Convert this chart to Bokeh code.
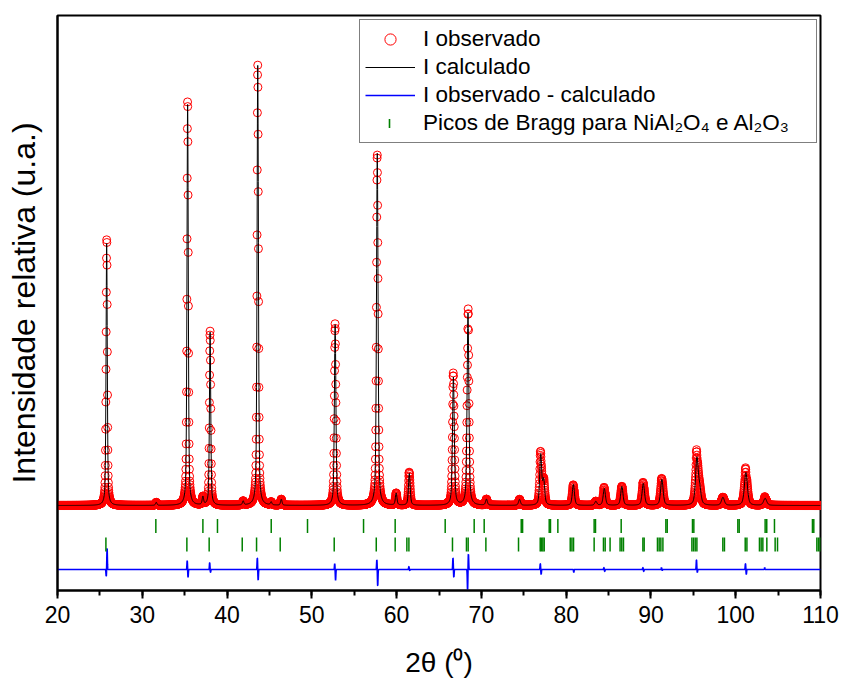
import numpy as np
from bokeh.plotting import figure
from bokeh.models import (Range1d, SingleIntervalTicker, FixedTicker, Legend,
                          LegendItem)
from bokeh.embed import file_html
from bokeh.resources import INLINE

# ---------------- data ----------------
# calculated profile: peak positions (2theta, deg), heights (rel. units above background), FWHM (deg)
peak_pos = [25.80, 31.65, 35.35, 37.15, 38.00, 41.90, 43.62, 45.20, 46.40,
            52.75, 57.72, 59.95, 61.50, 66.70, 68.42, 70.60, 74.50, 77.00,
            77.35, 80.85, 83.50, 84.50, 86.57, 89.10, 91.29, 95.42, 95.75,
            98.49, 101.20, 103.47]
peak_height = [262, 3, 405, 8, 173, 4, 440, 3, 6,
               182, 352, 12, 32, 128, 192, 6, 6, 50,
               24, 21, 4, 17, 19, 22, 26, 46, 14,
               8, 33, 7]
peak_fwhm = [0.17, 0.20, 0.18, 0.20, 0.18, 0.20, 0.19, 0.20, 0.20,
             0.21, 0.22, 0.22, 0.24, 0.25, 0.25, 0.25, 0.27, 0.28,
             0.28, 0.30, 0.30, 0.31, 0.32, 0.34, 0.35, 0.38, 0.38,
             0.40, 0.42, 0.44]

# difference curve (obs - calc): lobes left / right of each misfit peak
diff_pos = [25.80, 35.35, 38.00, 43.62, 52.75, 57.72, 61.50, 66.70, 68.42,
            77.00, 80.85, 84.50, 89.10, 91.29, 95.42, 101.20, 103.47]
diff_left = [-7, 9, 7, 12, 6, 10, 3, 12, -21, 6, 0, 2, 2, 2, 10, 6, 2]
diff_right = [22, -8, -3, -11, -11, -17, -1, -8, 16, -5, -3, -2, -2, -1, -3, -5, 0]

# Bragg reflections
bragg_NiAl2O4 = [31.60, 37.15, 38.87, 45.21, 49.49, 56.10, 59.83, 65.73,
                 69.15, 70.33, 74.70, 74.86, 78.00, 78.15, 79.02, 83.30,
                 83.46, 86.49, 91.76, 91.92, 94.90, 95.06, 100.25, 100.41,
                 103.47, 103.66, 104.57, 109.05, 109.21]
bragg_Al2O3 = [25.71, 35.26, 37.89, 41.79, 43.48, 46.27, 52.64, 57.60,
               59.83, 61.21, 61.45, 66.59, 68.24, 68.44, 70.53, 74.38,
               76.94, 77.09, 77.25, 77.41, 80.48, 80.68, 80.87, 83.30,
               84.40, 84.60, 85.18, 86.36, 86.56, 86.76, 89.05, 89.20,
               90.77, 90.97, 91.17, 91.41, 94.83, 95.02, 95.22, 95.42,
               98.48, 98.67, 101.12, 101.32, 102.80, 103.00, 103.20,
               103.67, 104.65, 104.93, 109.57, 109.76, 109.96]

x_ticks = [20, 30, 40, 50, 60, 70, 80, 90, 100, 110]

# ---------------- profiles ----------------
STEP = 0.02
two_theta = np.round(np.arange(20.0, 110.0 + STEP / 2, STEP), 3)


def pv(x, p, h, w, eta=0.5):
    d = (x - p) / w
    return h * (eta / (1 + 4 * d * d) + (1 - eta) * np.exp(-4 * np.log(2) * d * d))


calc = np.zeros_like(two_theta)
for p_, h_, w_ in zip(peak_pos, peak_height, peak_fwhm):
    calc += pv(two_theta, p_, h_, w_)

diff = np.zeros_like(two_theta)
for p_, a_, b_ in zip(diff_pos, diff_left, diff_right):
    diff += a_ * np.exp(-4 * np.log(2) * ((two_theta - (p_ - 0.05)) / 0.07) ** 2)
    diff += b_ * np.exp(-4 * np.log(2) * ((two_theta - (p_ + 0.05)) / 0.07) ** 2)

obs = calc + diff

DIFF_OFFSET = -64
ROW1_Y = -20.5
ROW2_Y = -39.0

# ---------------- figure ----------------
X0, X1 = 20, 110
Y0, Y1 = -85, 490
FRAME_L, FRAME_R, FRAME_T, FRAME_B = 57, 820, 15, 590

p = figure(width=842, height=684, output_backend="svg", toolbar_location=None,
           x_range=Range1d(X0, X1), y_range=Range1d(Y0, Y1),
           min_border_left=FRAME_L, min_border_right=842 - FRAME_R,
           min_border_top=FRAME_T, min_border_bottom=684 - FRAME_B)
p.background_fill_color = "white"
p.border_fill_color = "white"
p.grid.visible = False
p.outline_line_color = "black"
p.outline_line_width = 2

r_obs = p.scatter(two_theta, obs, marker="circle", size=8, fill_color=None,
                  line_color="red", line_width=1)
r_calc = p.line(two_theta, calc, line_color="black", line_width=1)
r_diff = p.line(two_theta, diff + DIFF_OFFSET, line_color="blue", line_width=1.6)
r_b1 = p.scatter(bragg_NiAl2O4, [ROW1_Y] * len(bragg_NiAl2O4), marker="dash",
                 size=14, angle=np.pi / 2, line_color="green", line_width=1.5)
r_b2 = p.scatter(bragg_Al2O3, [ROW2_Y] * len(bragg_Al2O3), marker="dash",
                 size=14, angle=np.pi / 2, line_color="green", line_width=1.5)
# placeholder for the legend entry of the Bragg ticks (its vertical symbol is drawn below)
r_bleg = p.scatter(x=[], y=[], marker="dash", line_alpha=0, fill_alpha=0)

# x axis
xa = p.xaxis[0]
xa.ticker = SingleIntervalTicker(interval=10, num_minor_ticks=2)
xa.axis_line_width = 2
xa.major_tick_line_width = 2
xa.minor_tick_line_width = 2
xa.major_tick_out = 8
xa.major_tick_in = 0
xa.minor_tick_out = 5
xa.minor_tick_in = 0
xa.major_label_standoff = 7
xa.major_label_text_font = "Liberation Sans"
xa.major_label_text_font_size = "23px"
xa.major_label_text_color = "black"
xa.axis_label = "2θ (⁰)"
xa.axis_label_text_font = "Liberation Sans"
xa.axis_label_text_font_size = "28px"
xa.axis_label_text_font_style = "normal"
xa.axis_label_text_color = "black"
xa.axis_label_standoff = 21

# y axis
ya = p.yaxis[0]
ya.ticker = FixedTicker(ticks=[])
ya.axis_line_width = 2
ya.major_tick_out = 0
ya.major_tick_in = 0
ya.minor_tick_out = 0
ya.minor_tick_in = 0
ya.axis_label = "Intensidade relativa (u.a.)"
ya.axis_label_text_font = "Liberation Sans"
ya.axis_label_text_font_size = "32px"
ya.axis_label_text_font_style = "normal"
ya.axis_label_text_color = "black"
ya.axis_label_standoff = 16

LEG_LEFT, LEG_BOTTOM = 359, 143     # canvas px of the legend box corner
legend = Legend(items=[
    LegendItem(label="I observado", renderers=[r_obs]),
    LegendItem(label="I calculado", renderers=[r_calc]),
    LegendItem(label="I observado - calculado", renderers=[r_diff]),
    LegendItem(label="Picos de Bragg para NiAl₂O₄ e Al₂O₃\u2003", renderers=[r_bleg]),
], location=(LEG_LEFT - FRAME_L, FRAME_B - LEG_BOTTOM))
legend.padding = 5
legend.spacing = 0
legend.glyph_width = 50
legend.glyph_height = 28
legend.label_height = 28
legend.label_standoff = 8
legend.label_text_font = "Liberation Sans"
legend.label_text_font_size = "22.5px"
legend.label_text_color = "black"
legend.border_line_color = "black"
legend.border_line_width = 1.5
legend.background_fill_alpha = 0   # empty plot area beneath; lets the symbol below show
p.add_layout(legend)

# vertical green tick as the legend symbol of the Bragg reflections,
# placed at the centre of the legend's 4th glyph box
sym_px, sym_py = LEG_LEFT + 5 + 25, LEG_BOTTOM - 5 - 14 - 1
sym_x = X0 + (sym_px - FRAME_L) / (FRAME_R - FRAME_L) * (X1 - X0)
sym_y = Y1 - (sym_py - FRAME_T) / (FRAME_B - FRAME_T) * (Y1 - Y0)
p.scatter([sym_x], [sym_y], marker="dash", angle=np.pi / 2, size=9,
          line_color="green", line_width=1.6)

open("out.html", "w").write(file_html(p, INLINE))
